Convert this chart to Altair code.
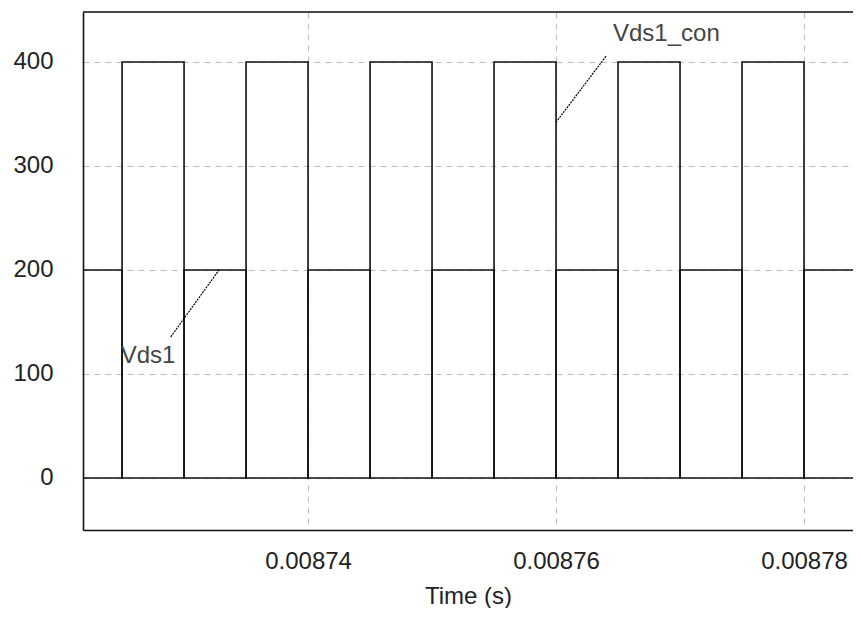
import altair as alt
import pandas as pd

# ---- data ----
t_rise = [0.008725, 0.008735, 0.008745, 0.008755, 0.008765, 0.008775]
t_fall = [0.00873, 0.00874, 0.00875, 0.00876, 0.00877, 0.00878]
t_start = 0.00872185
t_end = 0.00878395

vds1_con_on = 400   # Vds1_con during pulses
vds1_con_off = 0    # Vds1_con between pulses
vds1_on = 0         # Vds1 during pulses
vds1_off = 200      # Vds1 between pulses

x_ticks = [0.00874, 0.00876, 0.00878]
y_ticks = [0, 100, 200, 300, 400]
y_domain = [-50, 448]

labels = ["Vds1", "Vds1_con"]
label_t = [0.0087271, 0.0087689]
label_v = [117, 427]
leader_t1 = [0.00872893, 0.00876403]
leader_v1 = [135.7, 405.5]
leader_t2 = [0.00873282, 0.00876]
leader_v2 = [200, 342]


def build(name, on, off):
    rows = []
    k = 0
    rows.append((name, k, t_start, off)); k += 1
    for r, f in zip(t_rise, t_fall):
        rows.append((name, k, r, off)); k += 1
        rows.append((name, k, r, on)); k += 1
        rows.append((name, k, f, on)); k += 1
        rows.append((name, k, f, off)); k += 1
    rows.append((name, k, t_end, off))
    return rows


rows = build("Vds1_con", vds1_con_on, vds1_con_off) + build("Vds1", vds1_on, vds1_off)
df = pd.DataFrame(rows, columns=["series", "order", "t", "v"])

lab = pd.DataFrame({"label": labels, "t": label_t, "v": label_v})
lead = pd.DataFrame({"t": leader_t1, "v": leader_v1, "t2": leader_t2, "v2": leader_v2})

FONT = "Liberation Sans"
FS = 24

xscale = alt.Scale(domain=[t_start, t_end], nice=False, zero=False)
yscale = alt.Scale(domain=y_domain, nice=False, zero=False)

lines = alt.Chart(df).mark_line(color="#111111", strokeWidth=1.6, clip=True).encode(
    x=alt.X("t:Q", scale=xscale,
            axis=alt.Axis(values=x_ticks, format=".5f", title="Time (s)",
                          grid=True, gridDash=[6, 5], gridColor="#bdbdbd", gridWidth=1,
                          ticks=False, labelPadding=19,
                          titlePadding=11, labelFontSize=FS, titleFontSize=FS,
                          titleFontWeight="normal", labelFlush=False,
                          labelFont=FONT, titleFont=FONT,
                          labelColor="#222222", titleColor="#222222",
                          domainColor="#111111", domainWidth=1.6)),
    y=alt.Y("v:Q", scale=yscale,
            axis=alt.Axis(values=y_ticks, title=None, grid=True, gridDash=[6, 5],
                          gridColor="#bdbdbd", gridWidth=1, ticks=False,
                          labelPadding=30, labelFontSize=FS, labelFont=FONT,
                          labelColor="#222222",
                          domainColor="#111111", domainWidth=1.6)),
    detail="series:N",
    order="order:Q",
)

top_border = alt.Chart(pd.DataFrame({"v": [y_domain[1]]})).mark_rule(
    color="#111111", strokeWidth=1.6).encode(y=alt.Y("v:Q", scale=yscale))

leaders = alt.Chart(lead).mark_rule(color="#000000", strokeWidth=1.2, strokeDash=[2, 1]).encode(
    x=alt.X("t:Q", scale=xscale), y=alt.Y("v:Q", scale=yscale), x2="t2:Q", y2="v2:Q")

texts = alt.Chart(lab).mark_text(font=FONT, fontSize=FS, color="#444444",
                                 align="center", baseline="middle").encode(
    x=alt.X("t:Q", scale=xscale), y=alt.Y("v:Q", scale=yscale), text="label:N")

chart = alt.layer(lines, top_border, leaders, texts).properties(
    width=770, height=518,
    autosize=alt.AutoSizeParams(type="none"),
    padding={"left": 75, "top": 4, "right": 0, "bottom": 78},
).configure_view(stroke=None).configure(background="white")

chart.save("out.html", embed_options={"renderer": "svg", "actions": False})
